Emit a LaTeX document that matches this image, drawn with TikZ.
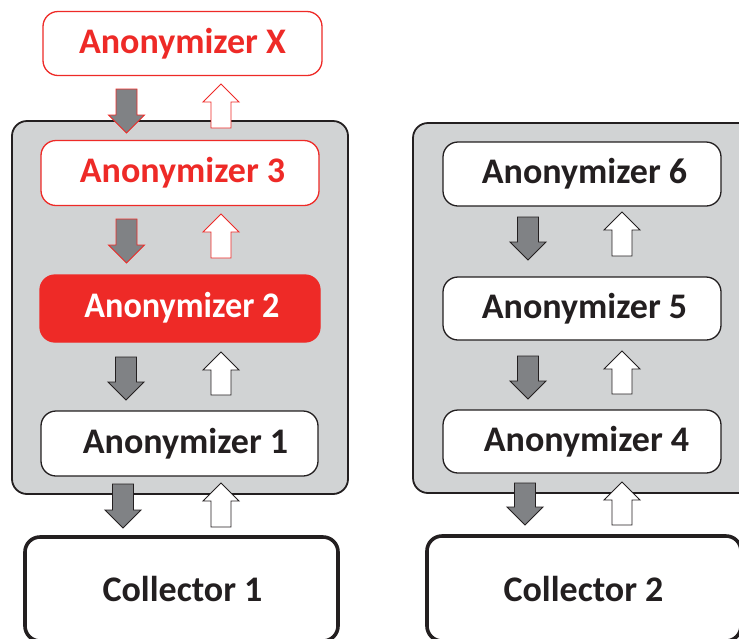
\documentclass[tikz,border=0pt]{standalone}
\usepackage{fontspec}
\setmainfont{Carlito}
\definecolor{anred}{HTML}{EE2A27}
\definecolor{cgray}{HTML}{D1D3D4}
\definecolor{agray}{HTML}{808285}
\definecolor{ink}{HTML}{231F20}
\tikzset{
  box/.style={draw=ink, line width=1.3pt, fill=white, rounded corners=15pt, inner sep=0pt},
  redbox/.style={box, draw=anred},
  filledbox/.style={box, draw=anred, fill=anred},
  container/.style={draw=ink, line width=1.8pt, fill=cgray, rounded corners=15pt},
  collbox/.style={box, line width=3.6pt},
  lbl/.style={font=\fontsize{36}{40}\selectfont\bfseries, text=ink, inner sep=0pt},
  redlbl/.style={lbl, text=anred},
  whitelbl/.style={lbl, text=white},
  darr/.style={fill=agray, draw=ink, line width=0.9pt, line join=miter},
  darrred/.style={darr, draw=anred},
  uarr/.style={fill=white, draw=ink, line width=0.9pt, line join=miter},
  uarrred/.style={uarr, draw=anred},
}
% down arrow: style, centre x, top y, tip y
\newcommand{\mydnarr}[4]{\draw[#1] (#2-10.5,#3) -- (#2+10.5,#3) -- (#2+10.5,#4-18) -- (#2+18,#4-18) -- (#2,#4) -- (#2-18,#4-18) -- (#2-10.5,#4-18) -- cycle;}
% up arrow: style, centre x, tip y, bottom y
\newcommand{\myuparr}[4]{\draw[#1] (#2-10,#4) -- (#2+10,#4) -- (#2+10,#3+18) -- (#2+18,#3+18) -- (#2,#3) -- (#2-18,#3+18) -- (#2-10,#3+18) -- cycle;}
\begin{document}
\begin{tikzpicture}[x=1pt,y=-1pt]
\clip (0,0) rectangle (739,638);
\fill[white] (0,0) rectangle (739,638);
% containers
\draw[container] (12,121) rectangle (348,494);
\draw[container] (413,123) rectangle (760,493);
% left column boxes
\node[redbox, minimum width=279pt, minimum height=64pt] (ax) at (182.5,43.5) {};
\node[redlbl] (axt) at (182.5,43.5) {Anonymizer X};
\node[redbox, minimum width=278pt, minimum height=65pt] (a3) at (180,173) {};
\node[redlbl] (a3t) at (182.5,173) {Anonymizer 3};
\node[filledbox, minimum width=280pt, minimum height=67pt] (a2) at (180,308.5) {};
\node[whitelbl] (a2t) at (182,308) {\scalebox{0.95}[1]{Anonymizer 2}};
\node[box, minimum width=277pt, minimum height=65pt] (a1) at (179.5,443.5) {};
\node[lbl] (a1t) at (185.5,443.5) {Anonymizer 1};
\node[collbox, minimum width=313pt, minimum height=104pt] (c1) at (181.5,589) {};
\node[lbl] (c1t) at (182.5,589) {Collector 1};
% right column boxes
\node[box, minimum width=278pt, minimum height=64pt] (a6) at (582,174) {};
\node[lbl] (a6t) at (584.5,174) {Anonymizer 6};
\node[box, minimum width=278pt, minimum height=63pt] (a5) at (582,308.5) {};
\node[lbl] (a5t) at (584.5,308.5) {Anonymizer 5};
\node[box, minimum width=278pt, minimum height=63pt] (a4) at (582,441.5) {};
\node[lbl] (a4t) at (586.5,441.5) {Anonymizer 4};
\node[collbox, minimum width=314pt, minimum height=105pt] (c2) at (584,588.5) {};
\node[lbl] (c2t) at (583.5,589) {Collector 2};
% left arrows
\mydnarr{darrred}{126.5}{89}{133}
\myuparr{uarrred}{221}{84}{128}
\mydnarr{darrred}{126.5}{219}{263}
\myuparr{uarrred}{221}{214}{258}
\mydnarr{darr}{126}{357}{400}
\myuparr{uarr}{221}{352}{395}
\mydnarr{darr}{123}{484}{528}
\myuparr{uarr}{221}{483}{527}
% right arrows
\mydnarr{darr}{528}{217}{260}
\myuparr{uarr}{622}{212}{256}
\mydnarr{darr}{528}{356}{399}
\myuparr{uarr}{622}{351}{394}
\mydnarr{darr}{525}{483}{525}
\myuparr{uarr}{622}{482}{525}
\end{tikzpicture}
\end{document}
